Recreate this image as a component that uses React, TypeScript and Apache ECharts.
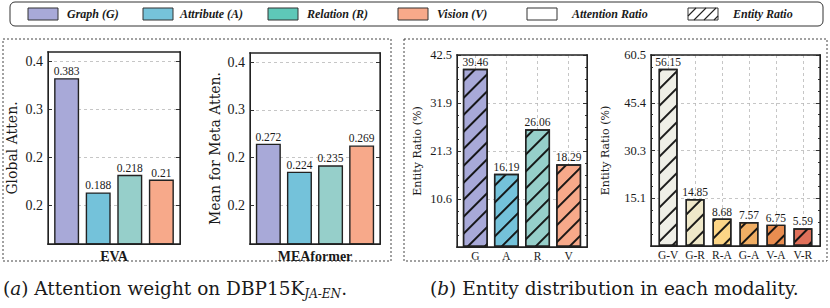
import React, { useEffect, useRef } from "react";
import * as echarts from "echarts";

// ---------- data ----------
const MODALITY_CODES = ["G", "A", "R", "V"];
const MODALITY_COLORS = ["#a8a9d8", "#74c2da", "#96cfca", "#f7a98a"];

const EVA_VALUES = [0.383, 0.188, 0.218, 0.21];
const MEAFORMER_VALUES = [0.272, 0.224, 0.235, 0.269];
const ATTEN_MIN = 0.1;
const ATTEN_MAX = 0.4276;
const ATTEN_TICKS = [0.166, 0.248, 0.33, 0.411];

const ENTITY_SINGLE_VALUES = [39.46, 16.19, 26.06, 18.29];
const ENTITY_SINGLE_MAX = 42.5;

const PAIR_CODES = ["G-V", "G-R", "R-A", "G-A", "V-A", "V-R"];
const PAIR_VALUES = [56.15, 14.85, 8.68, 7.57, 6.75, 5.59];
const PAIR_COLORS = ["#efefe7", "#efe8c9", "#fcd586", "#f0ae64", "#e98d50", "#e0705a"];
const ENTITY_PAIR_MAX = 60.5;

const LEGEND_LABELS = ["Graph (G)", "Attribute (A)", "Relation (R)", "Vision (V)", "Attention Ratio", "Entity Ratio"];
const LEGEND_COLORS = ["#a8a9d8", "#76c3da", "#5ec8b8", "#f8a98a", "#ffffff", "#ffffff"];

// ---------- styles ----------
const NUM_FONT = "'Liberation Serif', serif";
const TEXT_FONT = "'DejaVu Serif', serif";
const INK = "#1a1a1a";
const FRAME_COLOR = "#222";
const TICK_STYLE = { color: "#333", width: 1 };
const GRID_LINE = { type: [3, 3], color: "#b8b8b8", width: 0.8 };
const HATCH = {
  symbol: "rect",
  symbolSize: 1,
  dashArrayX: [1, 0],
  dashArrayY: [1.6, 10],
  rotation: -Math.PI / 4,
  color: "rgba(15,15,15,0.95)",
};

const GRIDS = [
  { left: 48, top: 52, width: 132, height: 192 },
  { left: 250, top: 53, width: 130, height: 191 },
  { left: 457, top: 55, width: 130, height: 192 },
  { left: 651, top: 55, width: 169, height: 191 },
];

function xAxisFor(gridIndex: number, codes: string[], halfSpan: number, showLabels: boolean, name?: string) {
  const idx = codes.map((_, i) => i);
  return {
    gridIndex,
    type: "value",
    min: -halfSpan,
    max: codes.length - 1 + halfSpan,
    position: "bottom",
    axisLine: { show: true, onZero: false, lineStyle: { color: FRAME_COLOR, width: 1 } },
    axisTick: { show: false, customValues: idx },
    axisLabel: {
      show: showLabels,
      customValues: idx,
      formatter: (v: number) => codes[Math.round(v)] ?? "",
      fontFamily: NUM_FONT,
      fontSize: 11.5,
      color: INK,
      margin: 3,
    },
    splitLine: { show: showLabels, lineStyle: GRID_LINE },
    name: name ?? "",
    nameLocation: "middle",
    nameGap: 5,
    nameTextStyle: { fontFamily: NUM_FONT, fontWeight: "bold", fontSize: 14, color: INK, verticalAlign: "top" },
  };
}

function attenYAxes(gridIndex: number, name: string, nameGap: number) {
  const base = {
    gridIndex,
    type: "value",
    min: ATTEN_MIN,
    max: ATTEN_MAX,
    axisLine: { show: true, onZero: false, lineStyle: { color: FRAME_COLOR, width: 1 } },
  };
  return [
    {
      ...base,
      position: "left",
      axisTick: { show: true, inside: true, length: 4, customValues: ATTEN_TICKS, lineStyle: TICK_STYLE },
      axisLabel: {
        customValues: ATTEN_TICKS,
        formatter: (v: number) => v.toFixed(1),
        fontFamily: NUM_FONT,
        fontSize: 14,
        color: INK,
        margin: 5,
      },
      splitLine: { show: true, lineStyle: GRID_LINE },
      name,
      nameLocation: "middle",
      nameGap,
      nameTextStyle: { fontFamily: TEXT_FONT, fontSize: 14, color: INK },
    },
    {
      ...base,
      position: "right",
      axisTick: { show: true, inside: true, length: 4, customValues: ATTEN_TICKS, lineStyle: TICK_STYLE },
      axisLabel: { show: false },
      splitLine: { show: false },
    },
  ];
}

function entityYAxes(gridIndex: number, max: number, name: string, nameGap: number) {
  const base = {
    gridIndex,
    type: "value",
    min: 0,
    max,
    interval: max / 4,
    axisLine: { show: true, onZero: false, lineStyle: { color: FRAME_COLOR, width: 1 } },
    axisTick: { show: true, inside: true, length: 4, lineStyle: TICK_STYLE },
    minorTick: { show: true, splitNumber: 4, length: 2, lineStyle: TICK_STYLE },
  };
  return [
    {
      ...base,
      position: "left",
      axisLabel: {
        formatter: (v: number) => v.toFixed(1),
        showMinLabel: false,
        fontFamily: NUM_FONT,
        fontSize: 12.5,
        color: INK,
        margin: 5,
      },
      splitLine: { show: true, lineStyle: GRID_LINE },
      name,
      nameLocation: "middle",
      nameGap,
      nameTextStyle: { fontFamily: TEXT_FONT, fontSize: 11, color: INK },
    },
    { ...base, position: "right", axisLabel: { show: false }, splitLine: { show: false } },
  ];
}

function barSeries(
  xAxisIndex: number,
  yAxisIndex: number,
  values: number[],
  colors: string[],
  barWidth: number,
  hatched: boolean
) {
  return {
    type: "bar",
    xAxisIndex,
    yAxisIndex,
    barWidth,
    data: values.map((v, i) => ({
      value: [i, v],
      itemStyle: hatched ? { color: colors[i], decal: HATCH } : { color: colors[i] },
    })),
    itemStyle: { borderColor: "#222", borderWidth: 1.4 },
    label: {
      show: true,
      position: "top",
      distance: 1,
      formatter: (p: any) => String(p.value[1]),
      fontFamily: NUM_FONT,
      fontSize: 11.5,
      color: INK,
    },
  };
}

function legendGraphics() {
  const swatchX = [28, 143, 268, 398, 527, 688];
  const textX = [67, 180, 307, 437, 572, 733];
  const els: any[] = [
    {
      type: "rect",
      shape: { x: 10, y: 2, width: 813, height: 24, r: 5 },
      style: { fill: "#fff", stroke: "#333", lineWidth: 1 },
    },
  ];
  LEGEND_LABELS.forEach((label, i) => {
    els.push({
      type: "rect",
      shape: { x: swatchX[i], y: 8, width: 30, height: 12 },
      style: { fill: LEGEND_COLORS[i], stroke: "#333", lineWidth: 1 },
    });
    els.push({
      type: "text",
      x: textX[i],
      y: 14,
      style: {
        text: label,
        fontFamily: NUM_FONT,
        fontWeight: "bold",
        fontStyle: "italic",
        fontSize: 12,
        fill: INK,
        verticalAlign: "middle",
      },
    });
  });
  const hx = swatchX[5];
  const hatchLines = [
    [hx, 16, hx + 8, 8],
    [hx + 6, 20, hx + 18, 8],
    [hx + 16, 20, hx + 28, 8],
    [hx + 26, 20, hx + 30, 16],
  ];
  hatchLines.forEach(([x1, y1, x2, y2]) =>
    els.push({ type: "line", shape: { x1, y1, x2, y2 }, style: { stroke: "#222", lineWidth: 1.1 } })
  );
  return els;
}

function frameGraphics() {
  const dotted = { fill: "none", stroke: "#444", lineWidth: 1, lineDash: [2, 2] };
  const els: any[] = [
    { type: "rect", shape: { x: 3, y: 39, width: 388, height: 222 }, style: dotted },
    { type: "rect", shape: { x: 404, y: 39, width: 423, height: 222 }, style: dotted },
  ];
  // solid box around each plotting area, drawn as four thin filled strips
  const t = 1.3;
  GRIDS.forEach((g) => {
    const strips = [
      { x: g.left - t / 2, y: g.top - t / 2, width: g.width + t, height: t },
      { x: g.left - t / 2, y: g.top + g.height - t / 2, width: g.width + t, height: t },
      { x: g.left - t / 2, y: g.top - t / 2, width: t, height: g.height + t },
      { x: g.left + g.width - t / 2, y: g.top - t / 2, width: t, height: g.height + t },
    ];
    strips.forEach((s) =>
      els.push({ type: "rect", z: 100, silent: true, shape: s, style: { fill: FRAME_COLOR } })
    );
  });
  return els;
}

function captionGraphics() {
  const rich = {
    i: { fontFamily: TEXT_FONT, fontStyle: "italic", fontSize: 18.5, fill: INK },
    sub: { fontFamily: TEXT_FONT, fontStyle: "italic", fontSize: 12, fill: INK, verticalAlign: "bottom", lineHeight: 11 },
  };
  const base = { fontFamily: TEXT_FONT, fontSize: 18.5, fill: INK, lineHeight: 24, rich };
  return [
    { type: "text", x: 3, y: 276, style: { ...base, text: "({i|a}) Attention weight on DBP15K{sub|JA-EN}." } },
    { type: "text", x: 430, y: 276, style: { ...base, text: "({i|b}) Entity distribution in each modality." } },
  ];
}

export default function App() {
  const ref = useRef<HTMLDivElement>(null);

  useEffect(() => {
    if (!ref.current) return;
    const chart = echarts.init(ref.current, undefined, { renderer: "svg" });

    const option: any = {
      animation: false,
      backgroundColor: "#fff",
      grid: GRIDS.map((g) => ({ ...g })),
      xAxis: [
        xAxisFor(0, MODALITY_CODES, 0.59, false, "EVA"),
        xAxisFor(1, MODALITY_CODES, 0.59, false, "MEAformer"),
        xAxisFor(2, MODALITY_CODES, 0.59, true),
        xAxisFor(3, PAIR_CODES, 0.635, true),
      ],
      yAxis: [
        ...attenYAxes(0, "Global Atten.", 29),
        ...attenYAxes(1, "Mean for Meta Atten.", 28),
        ...entityYAxes(2, ENTITY_SINGLE_MAX, "Entity Ratio (%)", 34),
        ...entityYAxes(3, ENTITY_PAIR_MAX, "Entity Ratio (%)", 40),
      ],
      series: [
        barSeries(0, 0, EVA_VALUES, MODALITY_COLORS, 25, false),
        barSeries(1, 2, MEAFORMER_VALUES, MODALITY_COLORS, 25, false),
        barSeries(2, 4, ENTITY_SINGLE_VALUES, MODALITY_COLORS, 25, true),
        barSeries(3, 6, PAIR_VALUES, PAIR_COLORS, 19, true),
      ],
      graphic: [...legendGraphics(), ...frameGraphics(), ...captionGraphics()],
    };

    chart.setOption(option);
    return () => chart.dispose();
  }, []);

  return (
    <div
      ref={ref}
      style={{ position: "fixed", left: 0, top: 0, width: 830, height: 308, background: "#fff" }}
    />
  );
}
